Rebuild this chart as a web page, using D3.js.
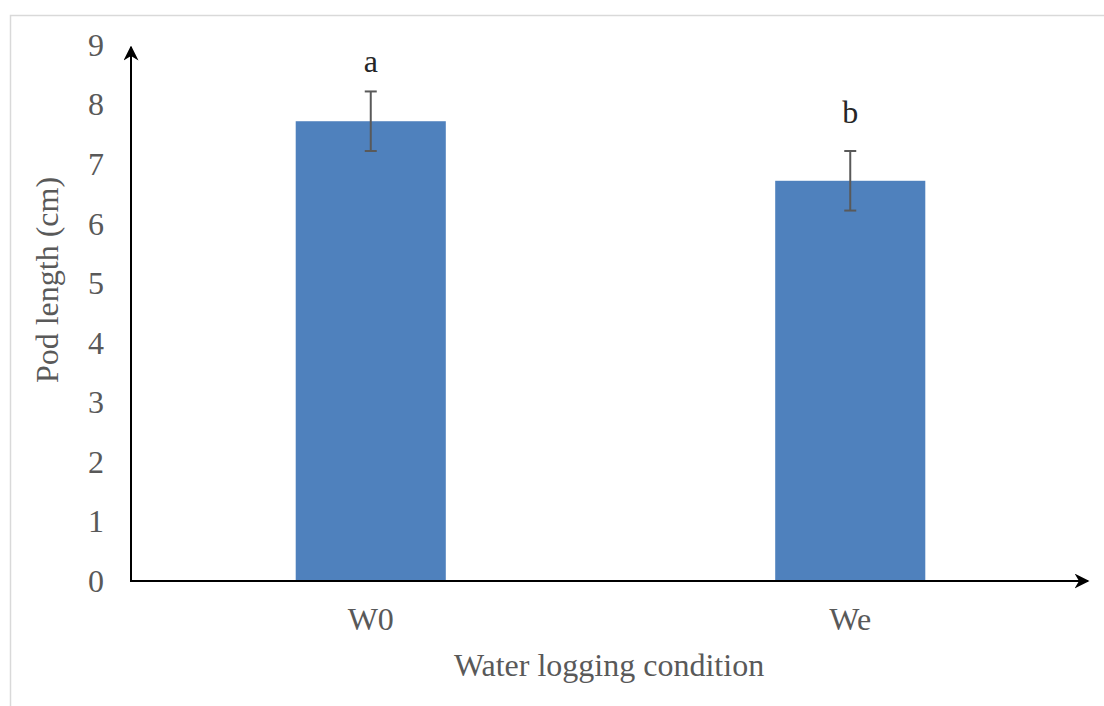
<!DOCTYPE html>
<html>
<head>
<meta charset="utf-8">
<script src="https://cdn.jsdelivr.net/npm/d3@7"></script>
<style>
  html, body { margin: 0; padding: 0; background: #fff; }
  svg { display: block; }
  text { font-family: "Liberation Serif", "Times New Roman", serif; font-size: 32px; }
</style>
</head>
<body>
<svg id="chart" width="1104" height="706"></svg>
<script>
// Pod length by water logging condition
const categories = ["W0", "We"];
const podLength = [7.72, 6.72];
const stdError = [0.5, 0.5];
const groupLetters = ["a", "b"];
const yTicks = [0, 1, 2, 3, 4, 5, 6, 7, 8, 9];

(function () {
  const svg = d3.select("#chart");
  const W = 1104, H = 706;
  const mLeft = 131, mRight = 1090, mTop = 45, mBottom = 581;
  const textColor = "#595959";

  // outer frame
  svg.append("rect")
    .attr("x", 10.5).attr("y", 15.5)
    .attr("width", W + 10).attr("height", H + 10)
    .attr("fill", "none").attr("stroke", "#d9d9d9").attr("stroke-width", 1.5);

  const x = d3.scaleBand().domain(categories).range([mLeft, mRight]).padding(0);
  const y = d3.scaleLinear().domain([0, 9]).range([mBottom, mTop]);
  const barW = x.bandwidth() * 0.313;
  const cx = (d) => x(d) + x.bandwidth() / 2;

  // arrow marker
  svg.append("defs").append("marker")
    .attr("id", "arrow").attr("viewBox", "0 0 10 10")
    .attr("refX", 9).attr("refY", 5)
    .attr("markerWidth", 7.5).attr("markerHeight", 7.5)
    .attr("markerUnits", "strokeWidth")
    .attr("orient", "auto")
    .append("path").attr("d", "M0,0 L10,5 L0,10 L3,5 Z").attr("fill", "#000");

  // bars
  svg.append("g").selectAll("rect")
    .data(categories)
    .join("rect")
    .attr("x", (d) => cx(d) - barW / 2)
    .attr("y", (d, i) => y(podLength[i]))
    .attr("width", barW)
    .attr("height", (d, i) => y(0) - y(podLength[i]))
    .attr("fill", "#4f81bd");

  // error bars
  const eg = svg.append("g").attr("stroke", "#595959").attr("stroke-width", 2).attr("fill", "none");
  categories.forEach((c, i) => {
    const px = cx(c);
    const hi = y(podLength[i] + stdError[i]);
    const lo = y(podLength[i] - stdError[i]);
    eg.append("line").attr("x1", px).attr("x2", px).attr("y1", hi).attr("y2", lo);
    eg.append("line").attr("x1", px - 6).attr("x2", px + 6).attr("y1", hi).attr("y2", hi);
    eg.append("line").attr("x1", px - 6).attr("x2", px + 6).attr("y1", lo).attr("y2", lo);
  });

  // significance letters above the error bars
  const letterGap = [19, 28];
  svg.append("g").selectAll("text")
    .data(categories)
    .join("text")
    .attr("x", cx)
    .attr("y", (d, i) => y(podLength[i] + stdError[i]) - letterGap[i])
    .attr("text-anchor", "middle")
    .attr("fill", "#262626")
    .text((d, i) => groupLetters[i]);

  // axes with arrowheads
  svg.append("line")
    .attr("x1", mLeft).attr("y1", mBottom + 1).attr("x2", mLeft).attr("y2", mTop + 2)
    .attr("stroke", "#000").attr("stroke-width", 2).attr("marker-end", "url(#arrow)");
  svg.append("line")
    .attr("x1", mLeft - 1).attr("y1", mBottom).attr("x2", mRight - 2).attr("y2", mBottom)
    .attr("stroke", "#000").attr("stroke-width", 2).attr("marker-end", "url(#arrow)");

  // y tick labels
  svg.append("g").selectAll("text")
    .data(yTicks)
    .join("text")
    .attr("x", 96)
    .attr("y", (d) => y(d))
    .attr("dy", "0.34em")
    .attr("text-anchor", "middle")
    .attr("fill", textColor)
    .text((d) => d);

  // category labels
  svg.append("g").selectAll("text")
    .data(categories)
    .join("text")
    .attr("x", cx)
    .attr("y", 630)
    .attr("text-anchor", "middle")
    .attr("fill", textColor)
    .text((d) => d);

  // axis titles
  svg.append("text")
    .attr("x", 609).attr("y", 676)
    .attr("text-anchor", "middle")
    .attr("fill", textColor)
    .text("Water logging condition");

  svg.append("text")
    .attr("transform", "translate(58,280) rotate(-90)")
    .attr("text-anchor", "middle")
    .attr("fill", textColor)
    .text("Pod length (cm)");
})();
</script>
</body>
</html>
